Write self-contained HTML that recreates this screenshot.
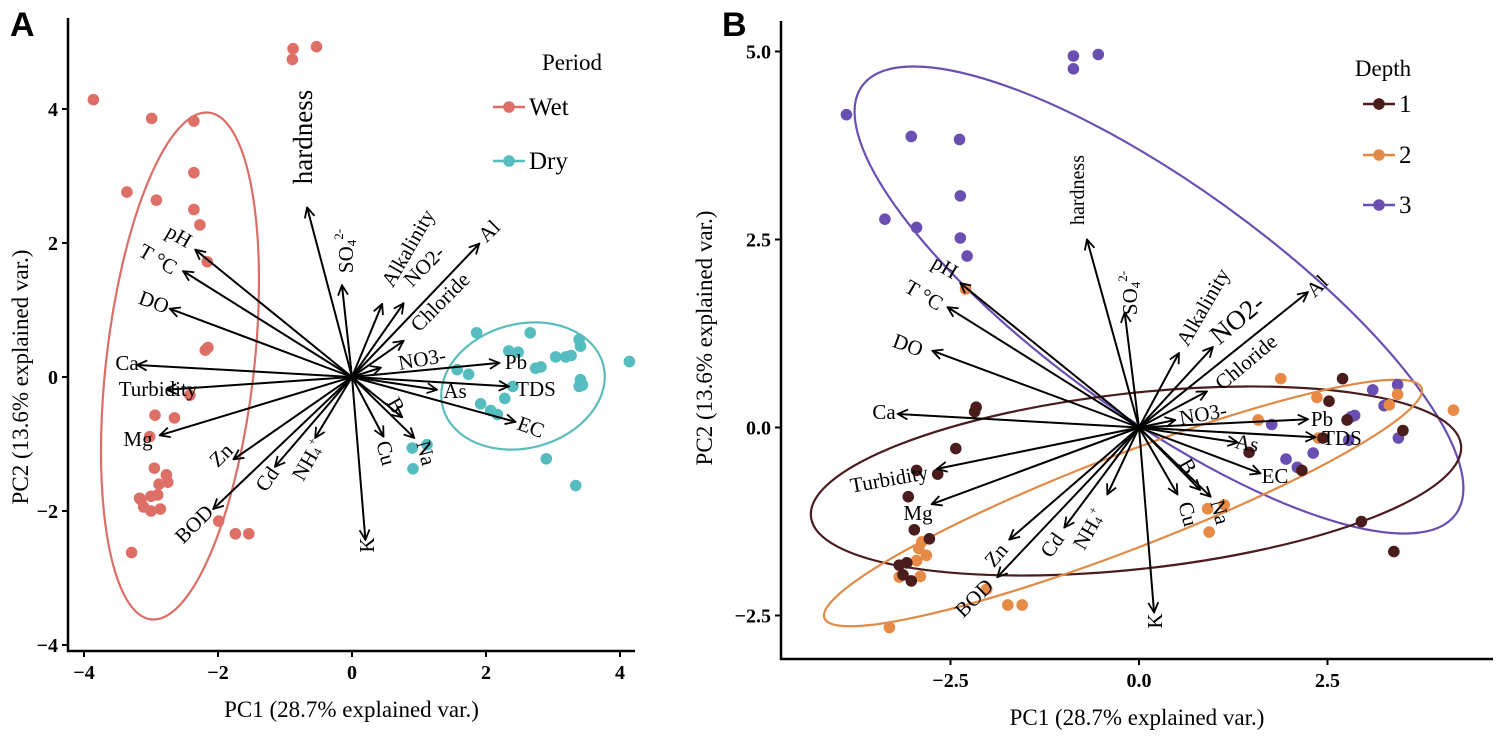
<!DOCTYPE html>
<html><head><meta charset="utf-8"><style>
body{margin:0;background:#fff;}
svg{display:block;font-family:"Liberation Serif",serif;}
</style></head><body>
<svg id="c" width="1500" height="744" viewBox="0 0 1500 744" xmlns="http://www.w3.org/2000/svg">
<defs>
<marker id="ah" viewBox="0 0 12 12" refX="11" refY="6" markerWidth="12" markerHeight="12" markerUnits="userSpaceOnUse" orient="auto">
<path d="M1,1 L11,6 L1,11" fill="none" stroke="#000" stroke-width="1.8"/></marker>
</defs>
<text x="10" y="36" font-family="Liberation Sans,sans-serif" font-weight="bold" font-size="34">A</text>
<text x="722" y="36" font-family="Liberation Sans,sans-serif" font-weight="bold" font-size="34">B</text>
<g id="ga"></g>
<g id="gb"></g>
</svg>
<script>
// ---------- Panel A data ----------
const wetX=[-3.86,-2.99,-2.36,-3.36,-2.92,-2.36,-2.36,-2.27,-2.16,-2.15,-2.19,-2.42,-2.94,-2.65,-3.02,-2.95,-2.77,-2.75,-2.88,-3.17,-3.0,-2.9,-3.11,-3.15,-2.86,-3.0,-1.99,-1.74,-1.54,-3.29,-0.88,-0.53,-0.89];
const wetY=[4.14,3.86,3.82,2.76,2.64,3.05,2.50,2.27,1.72,0.44,0.40,-0.27,-0.57,-0.61,-0.89,-1.36,-1.46,-1.57,-1.60,-1.81,-1.78,-1.76,-1.94,-1.83,-1.97,-2.0,-2.15,-2.34,-2.34,-2.62,4.9,4.93,4.74];
const dryX=[1.86,2.66,2.34,2.48,3.04,3.39,3.41,3.19,3.27,4.14,1.57,1.74,2.74,2.82,2.40,2.28,3.41,3.44,3.39,1.92,2.07,2.17,0.90,1.12,0.91,2.9,3.34];
const dryY=[0.66,0.66,0.39,0.37,0.30,0.56,0.46,0.30,0.32,0.23,0.11,0.04,0.13,0.15,-0.14,-0.32,-0.04,-0.12,-0.14,-0.40,-0.50,-0.56,-1.06,-1.01,-1.37,-1.22,-1.62];
const varNamesA=["pH","T °C","DO","Ca","Turbidity","Mg","Zn","BOD","Cd","NH4","K","Cu","Na","B","EC","As","TDS","Pb","NO3","Chloride","NO2","Alkalinity","Al","SO4","hardness"];
const loadXA=[-2.34,-2.52,-2.72,-3.21,-2.77,-2.87,-1.77,-2.07,-1.15,-0.55,0.2,0.47,0.93,0.75,2.44,1.27,2.34,2.2,0.43,0.77,0.77,0.45,1.9,-0.15,-0.67];
const loadYA=[1.90,1.58,1.02,0.18,-0.19,-0.87,-1.23,-1.97,-1.34,-0.91,-2.43,-0.89,-0.91,-0.6,-0.67,-0.19,-0.14,0.21,0.14,0.54,1.1,1.09,1.99,1.37,2.53];
const ticksA=[-4,-2,0,2,4];
// ---------- Panel B data ----------
const d3X=[-3.88,-3.02,-2.38,-2.37,-3.37,-2.95,-2.37,-2.28,-0.87,-0.87,-0.54,1.76,1.95,2.10,2.31,2.81,2.86,3.10,3.25,3.43,3.44,2.78];
const d3Y=[4.16,3.87,3.83,3.08,2.77,2.66,2.52,2.28,4.94,4.77,4.96,0.04,-0.42,-0.53,-0.34,0.14,0.16,0.50,0.29,0.57,-0.14,-0.17];
const d2X=[1.88,2.36,1.58,3.32,3.43,4.17,2.38,0.91,1.13,0.93,-2.92,-2.82,-2.88,-2.95,-2.90,-3.18,-2.02,-1.74,-1.55,-3.31,-2.3];
const d2Y=[0.65,0.40,0.10,0.30,0.44,0.23,-0.14,-1.08,-1.03,-1.39,-1.61,-1.70,-1.52,-1.77,-1.98,-1.99,-2.15,-2.36,-2.36,-2.66,1.84];
const d1X=[-2.16,-2.18,-2.43,-2.95,-2.67,-3.06,-2.98,-2.78,-3.18,-3.08,-3.13,-3.02,2.70,2.52,2.76,2.44,3.50,1.46,2.16,2.95,3.38];
const d1Y=[0.27,0.21,-0.28,-0.57,-0.62,-0.92,-1.36,-1.48,-1.83,-1.80,-1.96,-2.04,0.65,0.35,0.10,-0.14,-0.04,-0.33,-0.57,-1.25,-1.65];
const loadXB=[-2.37,-2.54,-2.74,-3.20,-2.68,-2.75,-1.72,-1.88,-0.99,-0.42,0.2,0.51,0.95,0.81,1.61,1.31,2.34,2.24,0.48,0.9,0.98,0.53,2.24,-0.19,-0.69];
const loadYB=[1.92,1.60,1.02,0.18,-0.55,-1.02,-1.49,-1.99,-1.33,-0.89,-2.46,-0.89,-0.92,-0.83,-0.61,-0.2,-0.13,0.11,0.1,0.48,1.07,0.99,1.80,1.53,2.5];
const ticksB=[-2.5,0,2.5,5];
const ticksBx=[-2.5,0,2.5];

// layout (pixels): label positions and rotations
const labPosA=[[179,236,30],[158,259,30],[154,302,20],[127,363,0],[158,389,0],[138,439,0],[221,455,-45],[194,524,-45],[267,479,-55],[308,460,-60],[367,545,-90],[386,453,75],[426,453,75],[396,405,60],[531,427,20],[455,391,0],[536,389,0],[516,362,0],[422,359,-10],[440,302,-45],[424,266,-45],[408,248,-60],[489,231,-45],[346,251,-90],[303,137,-90]];
const labPosB=[[945,267,30],[924,295,30],[908,345,20],[884,412,0],[889,479,-10],[918,513,0],[996,555,-50],[974,598,-45],[1052,545,-55],[1089,529,-60],[1155,621,-90],[1188,514,75],[1220,512,75],[1188,466,60],[1275,476,0],[1247,443,10],[1342,438,0],[1322,419,0],[1203,414,-10],[1246,362,-40],[1237,319,-40],[1203,307,-60],[1317,286,-45],[1130,293,-90],[1078,190,-90]];

const NS="http://www.w3.org/2000/svg";
function mk(parent,tag,attrs){const e=document.createElementNS(NS,tag);for(const k in attrs)e.setAttribute(k,attrs[k]);parent.appendChild(e);return e;}

function labelContent(t,name){
  if(name==="NH4"){t.textContent="NH";const s=mk(t,"tspan",{"font-size":"12","dy":"4"});s.textContent="4";const p=mk(t,"tspan",{"font-size":"12","dy":"-10"});p.textContent="+";}
  else if(name==="SO4"){t.textContent="SO";const s=mk(t,"tspan",{"font-size":"13","dy":"5"});s.textContent="4";const p=mk(t,"tspan",{"font-size":"13","dy":"-13"});p.textContent="2-";}
  else if(name==="NO3"){t.textContent="NO3-";}
  else if(name==="NO2"){t.textContent="NO2-";}
  else t.textContent=name;
}

function panel(g,o){
  const sx=v=>o.x0+o.kx*v, sy=v=>o.y0-o.ky*v;
  const ax=mk(g,"path",{d:`M${o.L},${o.T} L${o.L},${o.B} L${o.R},${o.B}`,fill:"none",stroke:"#000","stroke-width":"2.5"});
  
  
  o.yt.forEach(v=>{
    const l=mk(g,"line",{x1:o.L-6,x2:o.L,y1:sy(v),y2:sy(v),stroke:"#000","stroke-width":"2"});
    
    
    const t=mk(g,"text",{x:o.L-10,y:sy(v)+7,"text-anchor":"end","font-size":"20","font-weight":"bold"});
    t.textContent=o.fmt(v);
    
    
  });
  o.xt.forEach(v=>{
    const l=mk(g,"line",{x1:sx(v),x2:sx(v),y1:o.B,y2:o.B+6,stroke:"#000","stroke-width":"2"});
    
    
    const t=mk(g,"text",{x:sx(v),y:o.B+28,"text-anchor":"middle","font-size":"20","font-weight":"bold"});
    t.textContent=o.fmt(v);
    
    
  });
  const xt=mk(g,"text",{x:(o.L+o.R)/2,y:o.B+66,"text-anchor":"middle","font-size":"23"});
  xt.textContent="PC1 (28.7% explained var.)";
  
  
  const yt=mk(g,"text",{x:0,y:0,"text-anchor":"middle","font-size":"23",transform:`translate(${o.ytx},${o.yty}) rotate(-90)`});
  yt.textContent="PC2 (13.6% explained var.)";
  
  
  o.ell.forEach(e=>{
    const el=mk(g,"ellipse",{cx:e[0],cy:e[1],rx:e[2],ry:e[3],transform:`rotate(${e[4]} ${e[0]} ${e[1]})`,fill:"none",stroke:e[5],"stroke-width":"2.2"});
    
    
  });
  o.series.forEach(s=>{
    s.xs.forEach((x,i)=>{
      const c=mk(g,"circle",{cx:sx(x),cy:sy(s.ys[i]),r:"5.8",fill:s.col});
      
      
    });
  });
  varNamesA.forEach((n,i)=>{
    const l=mk(g,"line",{x1:sx(0),y1:sy(0),x2:sx(o.lx[i]),y2:sy(o.ly[i]),stroke:"#000","stroke-width":"2","marker-end":"url(#ah)"});
    
    
    const p=o.lab[i];
    let fs=21;
    if(n==="hardness") fs=o.hardFs;
    if(n==="NO2"&&o.bigNO2) fs=27;
    const t=mk(g,"text",{x:0,y:0,"font-size":fs,"text-anchor":"middle","dominant-baseline":"central",transform:`translate(${p[0]},${p[1]}) rotate(${p[2]})`});
    labelContent(t,n);
    
    
  });
  const lt=mk(g,"text",{x:o.leg.x,y:o.leg.y,"text-anchor":"middle","font-size":"23"});
  lt.textContent=o.leg.title;
  
  
  o.leg.items.forEach(it=>{
    const gl=mk(g,"g",{});
    
    
    mk(gl,"line",{x1:it.x,x2:it.x+32,y1:it.y,y2:it.y,stroke:it.col,"stroke-width":"2.5"});
    mk(gl,"circle",{cx:it.x+16,cy:it.y,r:"5.8",fill:it.col});
    const t=mk(gl,"text",{x:it.x+36,y:it.y+8,"font-size":"25"});
    t.textContent=it.label;
  });
}

panel(document.getElementById("ga"),{
  x0:352,kx:67,y0:377,ky:67,L:68,T:18,B:651,R:635,yt:ticksA,xt:ticksA,fmt:v=>v<0?"\u2212"+(-v):String(v),ytx:28,yty:377,
  ell:[[180,366,74,255,6.5,"#dd6e66"],[523,386,83,62,-15,"#5bbcbc"]],
  series:[{name:"wet",xs:wetX,ys:wetY,col:"#de6f67"},{name:"dry",xs:dryX,ys:dryY,col:"#55bcbf"}],
  lx:loadXA,ly:loadYA,lab:labPosA,hardFs:27,bigNO2:false,
  leg:{x:572,y:70,title:"Period",items:[{x:493,y:107,col:"#de6f67",label:"Wet"},{x:493,y:161,col:"#55bcbf",label:"Dry"}]}
});
panel(document.getElementById("gb"),{
  x0:1139,kx:75.4,y0:427.5,ky:75.2,L:781,T:21,B:659,R:1493,yt:ticksB,xt:ticksBx,fmt:v=>(v<0?"\u2212":"")+Math.abs(v).toFixed(1),ytx:712,yty:338,
  ell:[[1159,300,366,115,35.8,"#6a4fb3"],[1136,481,327,88,-6.3,"#4a1c1c"],[1123,503,320,47,-21.1,"#e08a45"]],
  series:[{name:"depth-3",xs:d3X,ys:d3Y,col:"#6a4fb3"},{name:"depth-2",xs:d2X,ys:d2Y,col:"#e68a45"},{name:"depth-1",xs:d1X,ys:d1Y,col:"#4a1c1c"}],
  lx:loadXB,ly:loadYB,lab:labPosB,hardFs:20,bigNO2:true,
  leg:{x:1383,y:76,title:"Depth",items:[{x:1363,y:104,col:"#4a1c1c",label:"1"},{x:1363,y:155,col:"#e08a45",label:"2"},{x:1363,y:205,col:"#6a4fb3",label:"3"}]}
});
</script>
</body></html>
